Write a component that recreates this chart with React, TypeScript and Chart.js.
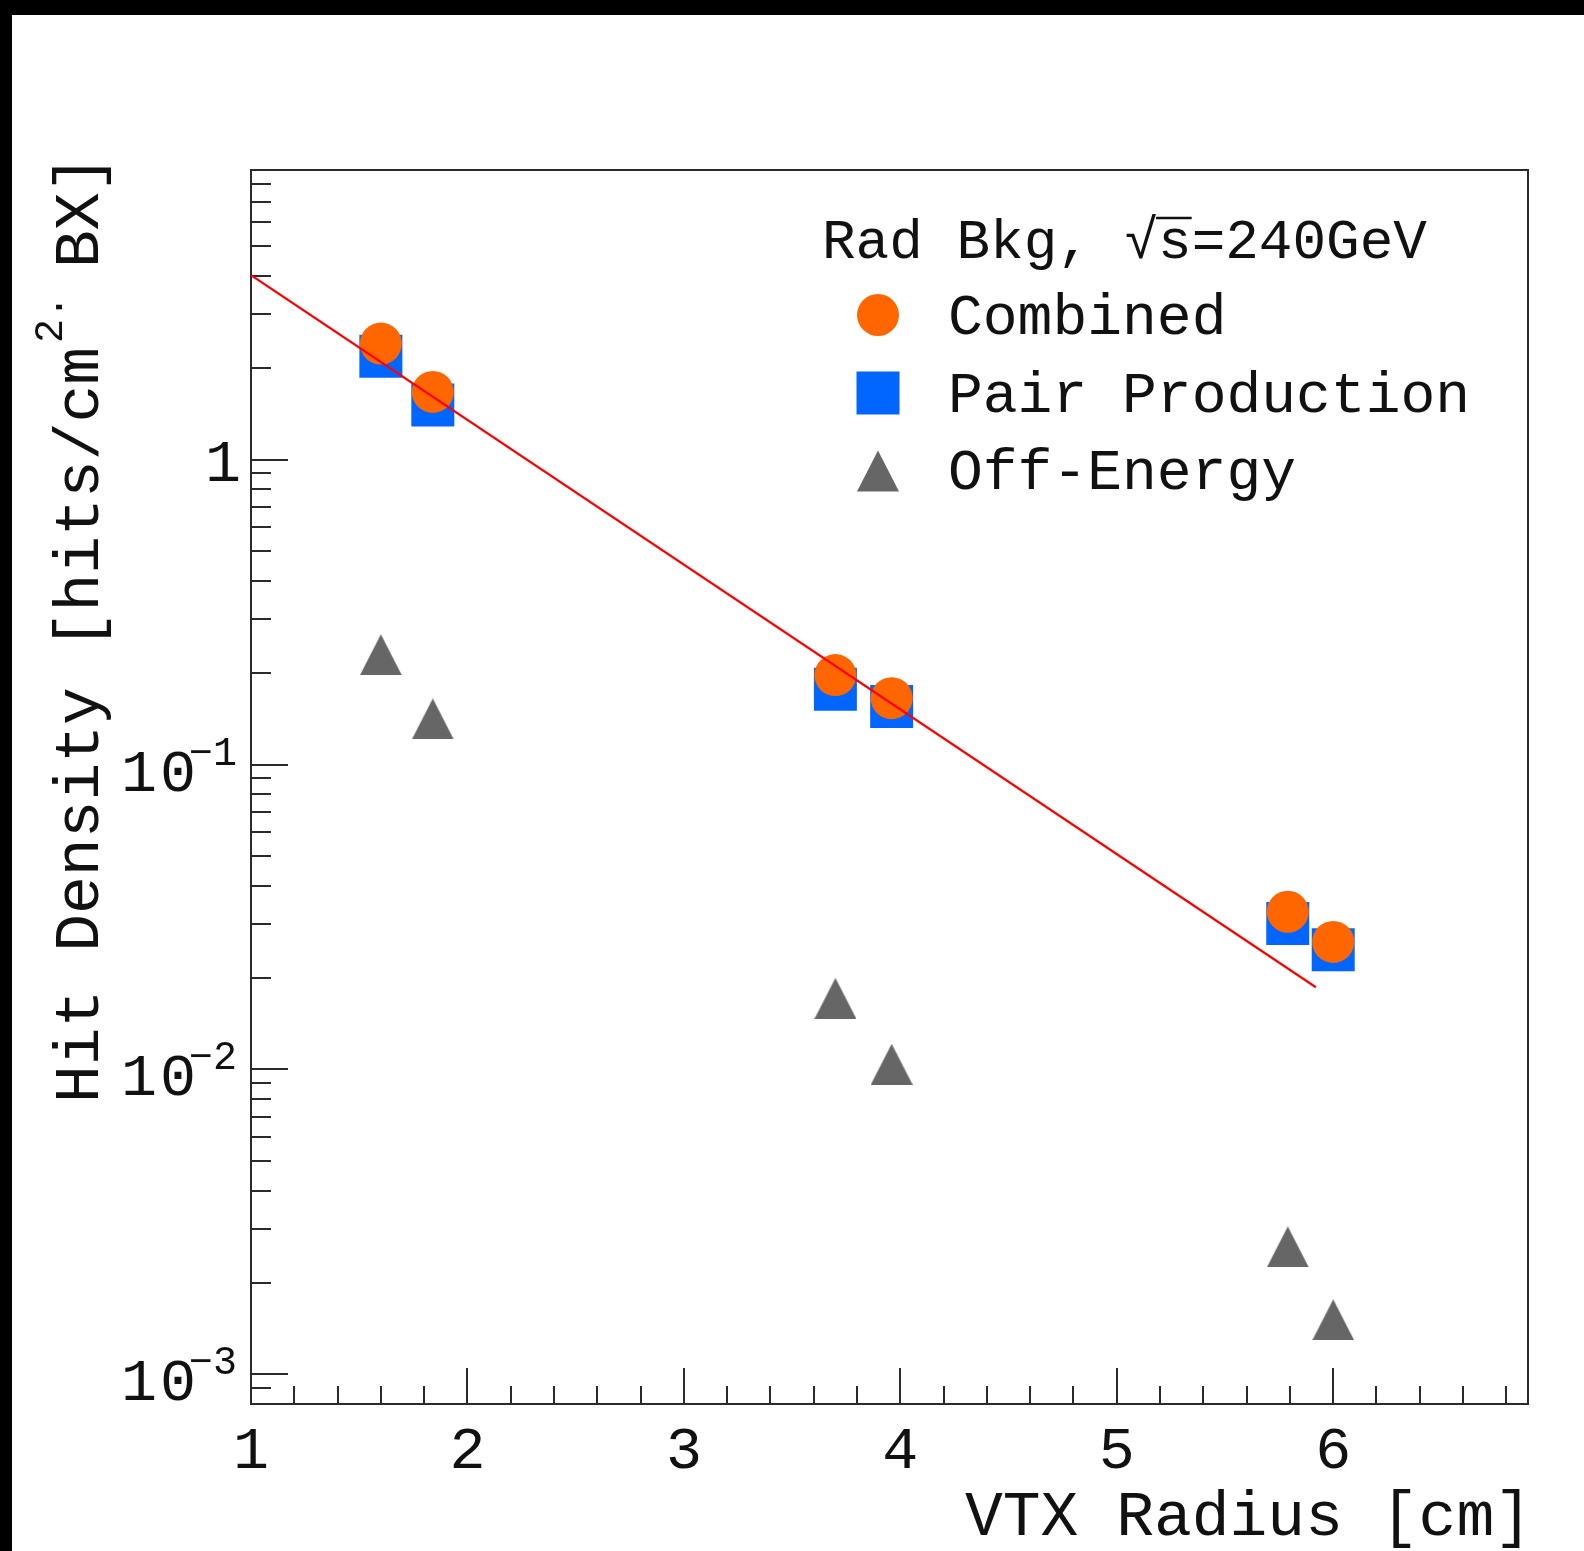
import React, { useEffect, useRef } from "react";
import { Chart, registerables } from "chart.js";

Chart.register(...registerables);

// ---- data ----
const radius = [1.6, 1.84, 3.7, 3.96, 5.79, 6.0];
const combined = [2.4, 1.666, 0.1965, 0.165, 0.0329, 0.0262];
const pairProduction = [2.18, 1.51, 0.1766, 0.155, 0.0301, 0.0247];
const offEnergy = [0.229, 0.141, 0.0171, 0.0104, 0.00262, 0.00151];
const fitX = [1.0, 5.92];
const fitY = [4.02, 0.0186];

const xTickValues = [1, 2, 3, 4, 5, 6];
const xTickLabels = ["1", "2", "3", "4", "5", "6"];
const yTickExponents = [-3, -2, -1, 0];
const legendTitle = "Rad Bkg, ";
const legendTitleSqrt = "√";
const legendTitleS = "s";
const legendTitleRest = "=240GeV";
const seriesLabels = ["Combined", "Pair Production", "Off-Energy"];
const xTitle = "VTX Radius [cm]";
const yTitleMain = "Hit Density [hits/cm";
const yTitleSup = "2.";
const yTitleEnd = "BX]";

const X_MIN = 1;
const X_MAX = 6.9;
const Y_MIN = 8e-4;
const Y_MAX = 8.9;

const ORANGE = "#ff6600";
const BLUE = "#0066ff";
const GREY = "#666666";
const INK = "#111111";
const MONO = '"Liberation Mono", "Courier New", monospace';

function makeTriangle(color: string) {
  const c = document.createElement("canvas");
  c.width = 42;
  c.height = 41;
  const g = c.getContext("2d")!;
  g.fillStyle = color;
  g.beginPath();
  g.moveTo(21, 0);
  g.lineTo(42, 41);
  g.lineTo(0, 41);
  g.closePath();
  g.fill();
  return c;
}

const framePlugin = {
  id: "rootFrame",
  beforeDatasetsDraw(chart: any) {
    const { ctx, chartArea } = chart;
    const xs = chart.scales.x;
    const ys = chart.scales.y;
    const { left, top, right, bottom } = chartArea;
    ctx.save();
    ctx.strokeStyle = "#2a2a2a";
    ctx.lineWidth = 2;
    ctx.strokeRect(left, top, right - left, bottom - top);
    ctx.beginPath();
    // x ticks (inward)
    for (let i = 0; i <= 59; i++) {
      const v = X_MIN + i * 0.1;
      const isMajor = Math.abs(v - Math.round(v)) < 1e-6;
      const isMinor = Math.abs(v * 5 - Math.round(v * 5)) < 1e-6;
      if (!isMajor && !isMinor) continue;
      if (v <= X_MIN + 1e-6 || v >= X_MAX - 1e-6) continue;
      const px = Math.round(xs.getPixelForValue(v));
      ctx.moveTo(px, bottom);
      ctx.lineTo(px, bottom - (isMajor ? 36 : 18));
    }
    // y ticks (inward)
    for (let e = -4; e <= 0; e++) {
      for (let m = 1; m <= 9; m++) {
        const v = m * Math.pow(10, e);
        if (v < Y_MIN * 0.999 || v > Y_MAX) continue;
        const py = Math.round(ys.getPixelForValue(v));
        if (py >= bottom - 1) continue;
        ctx.moveTo(left, py);
        ctx.lineTo(left + (m === 1 ? 37 : 20), py);
      }
    }
    ctx.stroke();
    ctx.restore();
  },
  afterDraw(chart: any) {
    const { ctx, chartArea } = chart;
    const xs = chart.scales.x;
    const ys = chart.scales.y;
    const { left, bottom, right } = chartArea;
    ctx.save();
    ctx.fillStyle = INK;

    // x tick labels
    ctx.font = `60px ${MONO}`;
    ctx.textAlign = "center";
    ctx.textBaseline = "alphabetic";
    xTickValues.forEach((v, i) => {
      ctx.fillText(xTickLabels[i], xs.getPixelForValue(v), bottom + 64);
    });

    // y tick labels
    yTickExponents.forEach((e) => {
      const py = ys.getPixelForValue(Math.pow(10, e));
      if (e === 0) {
        ctx.font = `60px ${MONO}`;
        ctx.textAlign = "center";
        ctx.fillText("1", left - 28, py + 21);
      } else {
        ctx.font = `60px ${MONO}`;
        ctx.textAlign = "center";
        ctx.fillText("1", left - 112, py + 26);
        ctx.fillText("0", left - 73, py + 26);
        ctx.font = `40px ${MONO}`;
        ctx.fillText("−", left - 50, py);
        ctx.fillText(String(-e), left - 26, py);
      }
    });

    // x title
    ctx.font = `63px ${MONO}`;
    ctx.textAlign = "right";
    ctx.fillText(xTitle, right + 4, 1535);

    // y title (rotated)
    ctx.save();
    ctx.translate(98, 1103);
    ctx.rotate(-Math.PI / 2);
    ctx.textAlign = "left";
    ctx.font = `63px ${MONO}`;
    ctx.fillText(yTitleMain, 0, 0);
    ctx.font = `40px ${MONO}`;
    ctx.fillText(yTitleSup, 760, -36);
    ctx.font = `63px ${MONO}`;
    ctx.fillText(yTitleEnd, 835, 0);
    ctx.restore();

    // legend
    ctx.textAlign = "left";
    ctx.font = `56px ${MONO}`;
    let tx = 822;
    const ty = 258;
    ctx.fillText(legendTitle, tx, ty);
    tx += ctx.measureText(legendTitle).width;
    ctx.fillText(legendTitleSqrt, tx, ty);
    tx += ctx.measureText(legendTitleSqrt).width;
    const sW = ctx.measureText(legendTitleS).width;
    ctx.fillText(legendTitleS, tx, ty);
    ctx.beginPath();
    ctx.strokeStyle = INK;
    ctx.lineWidth = 2.5;
    ctx.moveTo(tx - 2, ty - 40);
    ctx.lineTo(tx + sW, ty - 40);
    ctx.stroke();
    tx += sW;
    ctx.fillText(legendTitleRest, tx, ty);

    const mx = 878;
    const rowsMarkerY = [315, 393, 471];
    const rowsTextY = [334, 412, 489];
    // circle
    ctx.fillStyle = ORANGE;
    ctx.beginPath();
    ctx.arc(mx, rowsMarkerY[0], 21, 0, Math.PI * 2);
    ctx.fill();
    // square
    ctx.fillStyle = BLUE;
    ctx.fillRect(mx - 21.5, rowsMarkerY[1] - 21.5, 43, 43);
    // triangle
    ctx.fillStyle = GREY;
    ctx.beginPath();
    ctx.moveTo(mx, rowsMarkerY[2] - 20.5);
    ctx.lineTo(mx + 21, rowsMarkerY[2] + 20.5);
    ctx.lineTo(mx - 21, rowsMarkerY[2] + 20.5);
    ctx.closePath();
    ctx.fill();

    ctx.fillStyle = INK;
    ctx.font = `58px ${MONO}`;
    seriesLabels.forEach((lab, i) => {
      ctx.fillText(lab, 948, rowsTextY[i]);
    });
    ctx.restore();
  },
};

export default function App() {
  const ref = useRef<HTMLCanvasElement | null>(null);
  useEffect(() => {
    if (!ref.current) return;
    const tri = makeTriangle(GREY);
    const pts = (ys: number[]) => radius.map((x, i) => ({ x, y: ys[i] }));
    const chart = new Chart(ref.current, {
      type: "scatter",
      data: {
        datasets: [
          {
            type: "line",
            label: "fit",
            data: fitX.map((x, i) => ({ x, y: fitY[i] })),
            borderColor: "#ff0000",
            borderWidth: 2.2,
            pointRadius: 0,
            fill: false,
            tension: 0,
            order: 0,
          } as any,
          {
            label: seriesLabels[0],
            data: pts(combined),
            pointStyle: "circle",
            pointRadius: 21,
            backgroundColor: ORANGE,
            borderWidth: 0,
            order: 1,
          },
          {
            label: seriesLabels[2],
            data: pts(offEnergy),
            pointStyle: tri as any,
            pointRadius: 21,
            backgroundColor: GREY,
            borderWidth: 0,
            order: 2,
          },
          {
            label: seriesLabels[1],
            data: pts(pairProduction),
            pointStyle: "rect",
            pointRadius: 30.4,
            backgroundColor: BLUE,
            borderWidth: 0,
            order: 3,
          },
        ],
      },
      options: {
        animation: false,
        responsive: false,
        events: [],
        layout: { padding: { left: 251, top: 170, right: 56, bottom: 147 } },
        plugins: { legend: { display: false }, tooltip: { enabled: false } },
        scales: {
          x: { type: "linear", min: X_MIN, max: X_MAX, display: false },
          y: { type: "logarithmic", min: Y_MIN, max: Y_MAX, display: false },
        },
      },
      plugins: [framePlugin],
    });
    return () => chart.destroy();
  }, []);

  return (
    <div style={{ position: "absolute", left: 0, top: 0, width: 1584, height: 1551, background: "#000" }}>
      <div style={{ position: "absolute", left: 12, top: 15, right: 0, bottom: 0, background: "#fff" }} />
      <canvas ref={ref} width={1584} height={1551} style={{ position: "absolute", left: 0, top: 0, width: 1584, height: 1551 }} />
    </div>
  );
}
